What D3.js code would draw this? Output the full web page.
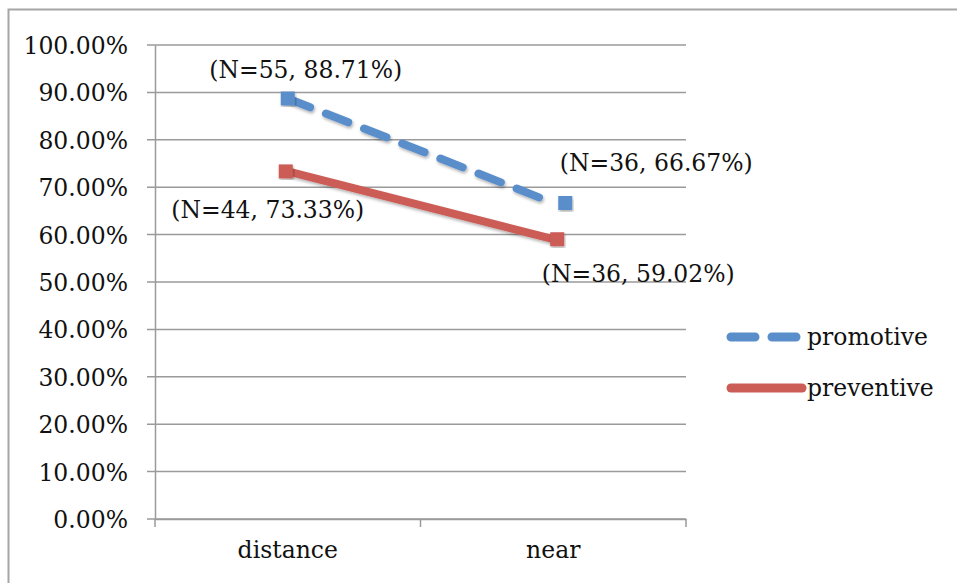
<!DOCTYPE html>
<html>
<head>
<meta charset="utf-8">
<script src="https://cdn.jsdelivr.net/npm/d3@7"></script>
<style>
  body { margin: 0; background: #fff; }
  text { font-family: "DejaVu Serif", "Liberation Serif", serif; fill: #111; }
</style>
</head>
<body>
<div id="chart"></div>
<script>
// data
const categories = ["distance", "near"];
const promotive = [88.71, 66.67];
const preventive = [73.33, 59.02];
const promotiveN = [55, 36];
const preventiveN = [44, 36];
const yTicks = [0, 10, 20, 30, 40, 50, 60, 70, 80, 90, 100];

const WIDTH = 957, HEIGHT = 583;
const BLUE = "#5A8ECB", RED = "#CC5C56", GRID = "#9a9a9a";
const FONT = "23.5px";

const svg = d3.select("#chart").append("svg")
  .attr("width", WIDTH).attr("height", HEIGHT);

// outer frame (right & bottom run off the picture)
svg.append("rect")
  .attr("x", 8.5).attr("y", 9.5).attr("width", 1000).attr("height", 1000)
  .attr("fill", "none").attr("stroke", "#a6a6a6").attr("stroke-width", 2);

const plot = { left: 155, right: 686, top: 45, bottom: 519 };

const x = d3.scaleBand().domain(categories).range([plot.left, plot.right]);
const y = d3.scaleLinear().domain([0, 100]).range([plot.bottom, plot.top]);

// gridlines
svg.append("g").selectAll("line").data(yTicks).enter().append("line")
  .attr("x1", plot.left - 8).attr("x2", plot.right)
  .attr("y1", d => y(d)).attr("y2", d => y(d))
  .attr("stroke", GRID).attr("stroke-width", 1.5);

// y axis
const yAxis = svg.append("g")
  .attr("transform", "translate(" + plot.left + ",0)")
  .call(d3.axisLeft(y).tickValues(yTicks).tickSize(0).tickPadding(27)
    .tickFormat(d => d.toFixed(2) + "%"));
yAxis.select(".domain").attr("stroke", GRID).attr("stroke-width", 1.5);
yAxis.selectAll("text").style("font-size", FONT).attr("dy", "0.36em");

// x axis
const xAxis = svg.append("g")
  .attr("transform", "translate(0," + plot.bottom + ")")
  .call(d3.axisBottom(x).tickSize(0).tickPadding(22));
xAxis.select(".domain").attr("stroke", GRID).attr("stroke-width", 1.5);
xAxis.selectAll("text").style("font-size", FONT);
// tick marks at band boundaries
svg.append("g").selectAll("line")
  .data([plot.left, x("near"), plot.right]).enter().append("line")
  .attr("x1", d => d).attr("x2", d => d)
  .attr("y1", plot.bottom).attr("y2", plot.bottom + 8)
  .attr("stroke", GRID).attr("stroke-width", 1.5);

const cx = c => x(c) + x.bandwidth() / 2;

const defs = svg.append("defs");
defs.append("filter").attr("id", "shadow")
  .append("feDropShadow").attr("dx", 1).attr("dy", 2).attr("stdDeviation", 1.5)
  .attr("flood-color", "#000").attr("flood-opacity", 0.3);

const line = d3.line().x((d, i) => cx(categories[i])).y(d => y(d));

function series(values, color, dash, offsets) {
  svg.append("path").datum(values)
    .attr("d", line).attr("fill", "none")
    .attr("stroke", color).attr("stroke-width", 8)
    .attr("stroke-linecap", "round")
    .attr("stroke-dasharray", dash)
    .attr("filter", "url(#shadow)");
  svg.append("g").selectAll("rect").data(values).enter().append("rect")
    .attr("x", (d, i) => cx(categories[i]) - 7 + offsets[i])
    .attr("y", d => y(d) - 7)
    .attr("width", 14).attr("height", 14)
    .attr("fill", color).attr("filter", "url(#shadow)");
}

series(promotive, BLUE, "24 17", [0, 12]);
series(preventive, RED, null, [-2, 4]);

// data labels
const labels = [
  { v: promotive[0], n: promotiveN[0], c: categories[0], dx: 18, dy: -21 },
  { v: preventive[0], n: preventiveN[0], c: categories[0], dx: -20, dy: 47 },
  { v: promotive[1], n: promotiveN[1], c: categories[1], dx: 103, dy: -32 },
  { v: preventive[1], n: preventiveN[1], c: categories[1], dx: 85, dy: 43 }
];
svg.append("g").selectAll("text").data(labels).enter().append("text")
  .attr("x", d => cx(d.c) + d.dx)
  .attr("y", d => y(d.v) + d.dy)
  .attr("text-anchor", "middle")
  .style("font-size", FONT)
  .text(d => "(N=" + d.n + ", " + d.v.toFixed(2) + "%)");

// legend
const legend = [
  { name: "promotive", color: BLUE, dash: "24 17" },
  { name: "preventive", color: RED, dash: null }
];
const lg = svg.append("g").selectAll("g").data(legend).enter().append("g")
  .attr("transform", (d, i) => "translate(731," + (337 + i * 51) + ")");
lg.append("line")
  .attr("x1", 0).attr("x2", d => d.dash ? 66 : 71).attr("y1", 0).attr("y2", 0)
  .attr("stroke", d => d.color).attr("stroke-width", 9)
  .attr("stroke-linecap", "round")
  .attr("stroke-dasharray", d => d.dash);
lg.append("text").attr("x", 76).attr("y", 8)
  .style("font-size", FONT).text(d => d.name);
</script>
</body>
</html>
